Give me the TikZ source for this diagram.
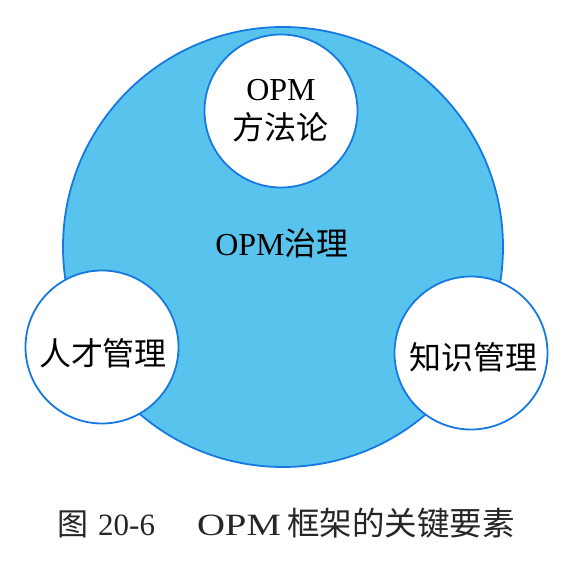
\documentclass[tikz,border=0pt]{standalone}
\usepackage{fontspec}
\setmainfont{Liberation Serif}
\newfontfamily\cjk{Noto Sans CJK SC}
\newfontfamily\wideserif[FakeStretch=1.25]{Liberation Serif}
\definecolor{fillblue}{RGB}{88,196,238}
\definecolor{lineblue}{RGB}{22,120,225}
\tikzset{
  big/.style={circle,draw=lineblue,fill=fillblue,line width=1.8pt,minimum size=440pt,inner sep=0pt},
  small/.style={circle,draw=lineblue,fill=white,line width=1.8pt,minimum size=153pt,inner sep=0pt},
  lbl/.style={font=\fontsize{32}{36}\selectfont,text=black,inner sep=0pt,align=center},
}
\begin{document}
\begin{tikzpicture}[x=1pt,y=1pt]
\useasboundingbox[fill=white] (0,0) rectangle (566,582);
\node[big] (gov) at (283,335) {};
\node[small] (meth) at (281,471) {};
\node[small] (talent) at (102,235) {};
\node[small] (know) at (471,229) {};
\node[lbl] (govt) at (282,339) {OPM{\cjk 治理}};
\node[lbl] (metht1) at (281,492) {OPM};
\node[lbl] (metht2) at (280,455) {\cjk 方法论};
\node[lbl] (talentt) at (103,229) {\cjk 人才管理};
\node[lbl] (knowt) at (473,225) {\cjk 知识管理};
\node[lbl,anchor=west,font=\fontsize{31}{36}\selectfont,text=black!85] (cap) at (57,59) {{\cjk 图}\hspace{10pt}20-6\hspace{42pt}{\wideserif OPM}\hspace{6pt}{\cjk\fontsize{32.5}{36}\selectfont 框架的关键要素}};
\end{tikzpicture}
\end{document}
